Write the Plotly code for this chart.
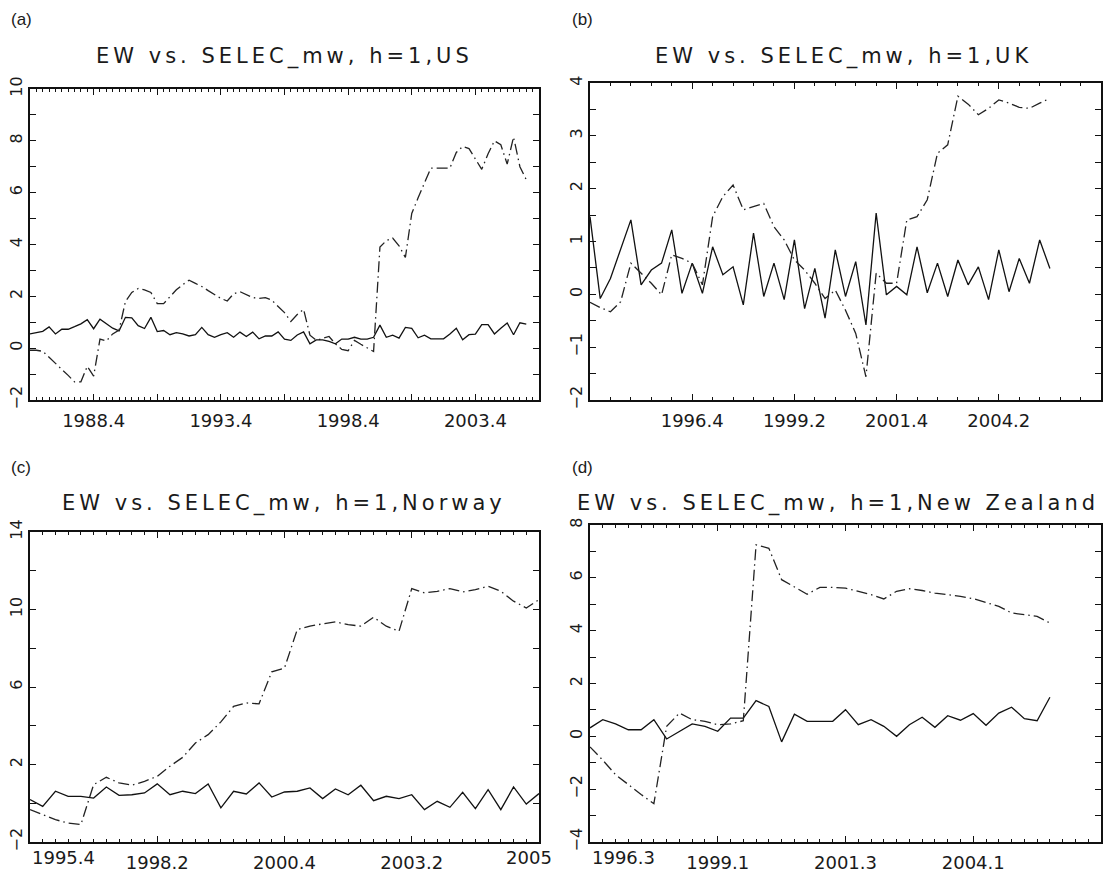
import plotly.graph_objects as go

# figure size (the page adds its default 8px body margin around it)
W, H = 1097, 862
OFF_X = 8
OFF_Y = 8

# ---------------- data (quarterly, values) ----------------
us_start = "1986.2"
us_ew = [0.55, 0.60, 0.65, 0.82, 0.55, 0.73, 0.73, 0.83, 0.94, 1.10,
         0.75, 1.12, 0.94, 0.77, 0.67, 1.19, 1.17, 0.87, 0.76, 1.19,
         0.64, 0.68, 0.52, 0.60, 0.55, 0.47, 0.52, 0.80, 0.52, 0.42,
         0.52, 0.60, 0.42, 0.62, 0.45, 0.62, 0.36, 0.47, 0.47, 0.63,
         0.35, 0.30, 0.51, 0.63, 0.17, 0.32, 0.32, 0.26, 0.17, 0.35,
         0.35, 0.42, 0.35, 0.35, 0.42, 0.89, 0.42, 0.50, 0.39, 0.80,
         0.76, 0.40, 0.50, 0.36, 0.36, 0.36, 0.55, 0.77, 0.32, 0.52,
         0.54, 0.91, 0.91, 0.55, 0.77, 0.97, 0.52, 0.98, 0.93]
us_selec = [-0.08, -0.08, -0.12, -0.35, -0.60, -0.80, -1.05, -1.30, -1.30, -0.70,
            -1.08, 0.35, 0.28, 0.55, 0.70, 1.80, 2.15, 2.30, 2.25, 2.15,
            1.72, 1.72, 2.00, 2.25, 2.45, 2.62, 2.50, 2.38, 2.22, 2.06,
            1.92, 1.82, 2.10, 2.18, 2.05, 1.95, 1.92, 1.95, 1.85, 1.60,
            1.37, 1.03, 1.30, 1.50, 0.50, 0.30, 0.38, 0.45, 0.17, -0.05,
            -0.10, 0.30, 0.15, 0.00, -0.13, 3.90, 4.15, 4.25, 3.95, 3.50,
            5.20, 5.80, 6.35, 6.95, 6.95, 6.95, 6.95, 7.55, 7.78, 7.70,
            7.30, 6.90, 7.50, 8.00, 7.85, 7.10, 8.15, 7.00, 6.50]

uk_start = "1994.2"
uk_ew = [1.47, -0.08, 0.30, 0.87, 1.41, 0.18, 0.46, 0.59, 1.22, 0.02,
         0.59, 0.02, 0.90, 0.37, 0.52, -0.20, 1.16, -0.04, 0.59, -0.10,
         1.03, -0.27, 0.49, -0.45, 0.84, -0.04, 0.62, -0.58, 1.54, -0.01,
         0.15, -0.01, 0.90, 0.03, 0.59, -0.04, 0.65, 0.18, 0.52, -0.10,
         0.84, 0.05, 0.68, 0.21, 1.03, 0.49]
uk_selec = [-0.15, -0.25, -0.33, -0.14, 0.59, 0.40, 0.21, -0.01, 0.75, 0.68,
            0.59, 0.18, 1.47, 1.85, 2.07, 1.60, 1.66, 1.72, 1.28, 1.03,
            0.65, 0.46, 0.21, -0.08, 0.08, -0.30, -0.74, -1.56, 0.40, 0.21,
            0.21, 1.41, 1.47, 1.79, 2.67, 2.83, 3.75, 3.60, 3.40, 3.52,
            3.68, 3.62, 3.54, 3.52, 3.62, 3.71]

no_start = "1995.4"
no_ew = [0.19, -0.16, 0.62, 0.36, 0.36, 0.27, 0.84, 0.41, 0.44, 0.53,
         1.00, 0.44, 0.62, 0.50, 1.00, -0.24, 0.62, 0.48, 1.05, 0.32,
         0.58, 0.62, 0.79, 0.24, 0.74, 0.44, 0.93, 0.13, 0.36, 0.24,
         0.44, -0.33, 0.10, -0.21, 0.56, -0.28, 0.70, -0.33, 0.84, -0.04,
         0.50]
no_selec = [-0.33, -0.59, -0.85, -1.02, -1.10, 0.96, 1.34, 1.05, 0.93, 1.13,
            1.39, 1.91, 2.37, 3.11, 3.54, 4.20, 5.00, 5.18, 5.13, 6.78,
            6.98, 8.96, 9.14, 9.26, 9.36, 9.22, 9.14, 9.60, 9.14, 8.88,
            11.08, 10.86, 10.94, 11.08, 10.91, 11.03, 11.20, 10.94, 10.43, 10.08,
            10.51]

nz_start = "1996.3"
nz_ew = [0.32, 0.63, 0.47, 0.25, 0.25, 0.63, -0.10, 0.19, 0.47, 0.38,
         0.19, 0.69, 0.69, 1.35, 1.13, -0.21, 0.84, 0.57, 0.57, 0.57,
         1.01, 0.44, 0.63, 0.38, 0.00, 0.44, 0.72, 0.34, 0.78, 0.61,
         0.86, 0.42, 0.88, 1.10, 0.67, 0.59, 1.48]
nz_selec = [-0.40, -0.90, -1.45, -1.83, -2.20, -2.55, 0.38, 0.88, 0.63, 0.57,
            0.44, 0.47, 0.59, 7.25, 7.12, 5.93, 5.67, 5.38, 5.64, 5.64,
            5.61, 5.49, 5.36, 5.20, 5.49, 5.59, 5.52, 5.42, 5.36, 5.30,
            5.21, 5.07, 4.92, 4.67, 4.60, 4.54, 4.29]

titles = ["EW vs. SELEC_mw, h=1,US", "EW vs. SELEC_mw, h=1,UK",
          "EW vs. SELEC_mw, h=1,Norway", "EW vs. SELEC_mw, h=1,New Zealand"]
tags = ["(a)", "(b)", "(c)", "(d)"]

us_xrange = ["1986.2", "2006.2"]
uk_xrange = ["1994.2", "2006.4"]
no_xrange = ["1995.4", "2005.4"]
nz_xrange = ["1996.3", "2006.3"]

us_tick_q = ["1988.4", "1993.4", "1998.4", "2003.4"]
us_tick_lab = ["1988.4", "1993.4", "1998.4", "2003.4"]
uk_tick_q = ["1996.4", "1999.2", "2001.4", "2004.2"]
uk_tick_lab = ["1996.4", "1999.2", "2001.4", "2004.2"]
no_tick_q = ["1995.4", "1998.2", "2000.4", "2003.2", "2005.4"]
no_tick_lab = ["1995.4", "1998.2", "2000.4", "2003.2", "2005"]
nz_tick_q = ["1996.3", "1999.1", "2001.3", "2004.1"]
nz_tick_lab = ["1996.3", "1999.1", "2001.3", "2004.1"]

us_yticks = [-2, 0, 2, 4, 6, 8, 10]
uk_yticks = [-2, -1, 0, 1, 2, 3, 4]
no_yticks = [-2, 2, 6, 10, 14]
nz_yticks = [-4, -2, 0, 2, 4, 6, 8]


# ---------------- helpers ----------------
def qx(s):
    y, q = s.split(".")
    return int(y) + (int(q) - 1) / 4.0


def series_x(start, n):
    x0 = qx(start)
    return [x0 + 0.25 * i for i in range(n)]


def fmt(v):
    return ("\u2212" + str(abs(v))) if v < 0 else str(v)


def pxx(p):  # window pixel -> paper fraction
    return (p - OFF_X) / W


def pxy(p):
    return 1 - (p - OFF_Y) / H


# layout spec (window pixel boxes: left, right, top, bottom)
spec = [
    dict(start=us_start, ew=us_ew, sel=us_selec, xr=us_xrange, tq=us_tick_q, tl=us_tick_lab,
         major=10, minor=1, yt=us_yticks, yminor=1, box=(30, 539, 89, 400),
         title_xy=(284, 57), tag_xy=(9, 20), left_edge=False, right_edge=False),
    dict(start=uk_start, ew=uk_ew, sel=uk_selec, xr=uk_xrange, tq=uk_tick_q, tl=uk_tick_lab,
         major=10, minor=2, yt=uk_yticks, yminor=0.5, box=(590, 1101, 83, 400),
         title_xy=(843, 56), tag_xy=(570, 20), left_edge=False, right_edge=False),
    dict(start=no_start, ew=no_ew, sel=no_selec, xr=no_xrange, tq=no_tick_q, tl=no_tick_lab,
         major=10, minor=1, yt=no_yticks, yminor=2, box=(30, 539, 532, 842),
         title_xy=(284, 503), tag_xy=(9, 468), left_edge=True, right_edge=True),
    dict(start=nz_start, ew=nz_ew, sel=nz_selec, xr=nz_xrange, tq=nz_tick_q, tl=nz_tick_lab,
         major=10, minor=1, yt=nz_yticks, yminor=1, box=(590, 1101, 525, 842),
         title_xy=(838, 503), tag_xy=(570, 468), left_edge=True, right_edge=False),
]

TICKFONT = dict(family="DejaVu Sans", size=18, color="#1a1a1a")
LINEC = "#111111"

fig = go.Figure()
annotations = []
extra_ax = 5  # next free axis number for edge-label overlay axes

for i, p in enumerate(spec):
    k = "" if i == 0 else str(i + 1)
    xs = series_x(p["start"], len(p["ew"]))
    fig.add_trace(go.Scatter(x=xs, y=p["ew"], mode="lines", xaxis="x" + k, yaxis="y" + k,
                             line=dict(color=LINEC, width=1.3), showlegend=False,
                             name="EW"))
    fig.add_trace(go.Scatter(x=xs, y=p["sel"], mode="lines", xaxis="x" + k, yaxis="y" + k,
                             line=dict(color="#222222", width=1.3, dash="11px,4px,1.5px,4px"),
                             showlegend=False, name="SELEC_mw"))

    x0, x1 = qx(p["xr"][0]), qx(p["xr"][1])
    nmaj = int(round((x1 - x0) / (0.25 * p["major"])))
    tickvals, ticktext = [], []
    labmap = {round(qx(q), 3): lab for q, lab in zip(p["tq"], p["tl"])}
    edge = []
    for j in range(nmaj + 1):
        v = x0 + j * 0.25 * p["major"]
        lab = labmap.get(round(v, 3), "")
        if (p["left_edge"] and j == 0) or (p["right_edge"] and j == nmaj):
            if lab:
                edge.append((v, lab, "left" if j == 0 else "right"))
            lab = ""
        tickvals.append(v)
        ticktext.append(lab)

    l, r, t, b = p["box"]
    fig.layout["xaxis" + k] = dict(
        domain=[pxx(l), pxx(r)], range=[x0, x1], anchor="y" + k,
        tickmode="array", tickvals=tickvals, ticktext=ticktext,
        ticks="inside", ticklen=6, tickwidth=1.2, tickcolor="#111",
        minor=dict(ticks="inside", ticklen=3, tickwidth=1, tickcolor="#111",
                   dtick=0.25 * p["minor"], tick0=x0, showgrid=False),
        showline=True, linewidth=2.2, linecolor="#111", mirror="ticks",
        showgrid=False, zeroline=False, tickangle=0, tickfont=TICKFONT,
        ticklabelstandoff=3, automargin=False,
    )
    # labels that sit on the frame corners: own overlay axes so they can be aligned
    for v, lab, side in edge:
        n = str(extra_ax)
        extra_ax += 1
        fig.add_trace(go.Scatter(x=[], y=[], xaxis="x" + n, yaxis="y" + k,
                                 showlegend=False, hoverinfo="skip"))
        fig.layout["xaxis" + n] = dict(
            overlaying="x" + k, anchor="y" + k, side="bottom", range=[x0, x1],
            tickmode="array", tickvals=[v], ticktext=[lab], ticks="",
            showline=False, showgrid=False, zeroline=False, tickangle=0,
            tickfont=TICKFONT, ticklabelstandoff=3, automargin=False,
            ticklabelposition="outside right" if side == "left" else "outside",
            ticklabelshift=2 if side == "left" else -10,
        )

    y0, y1 = p["yt"][0], p["yt"][-1]
    fig.layout["yaxis" + k] = dict(
        domain=[pxy(b), pxy(t)], range=[y0, y1], anchor="x" + k,
        tickmode="array", tickvals=p["yt"], ticktext=[fmt(v) for v in p["yt"]],
        ticks="inside", ticklen=6, tickwidth=1.2, tickcolor="#111",
        minor=dict(ticks="inside", ticklen=6, tickwidth=1, tickcolor="#111",
                   dtick=p["yminor"], tick0=y0, showgrid=False),
        showline=True, linewidth=2.2, linecolor="#111", mirror="ticks",
        showgrid=False, zeroline=False, tickangle=-90, automargin=False,
        tickfont=dict(family="DejaVu Sans", size=16, color="#1a1a1a"),
    )

    annotations.append(dict(
        text='<span style="letter-spacing:4px">' + titles[i] + '</span>',
        x=pxx(p["title_xy"][0]), y=pxy(p["title_xy"][1]), xref="paper", yref="paper",
        xanchor="center", yanchor="middle", showarrow=False,
        font=dict(family="DejaVu Sans", size=21, color="#1a1a1a")))
    annotations.append(dict(
        text=tags[i], x=pxx(p["tag_xy"][0]), y=pxy(p["tag_xy"][1]), xref="paper", yref="paper",
        xanchor="left", yanchor="middle", showarrow=False,
        font=dict(family="Liberation Sans", size=17, color="#1a1a1a")))

fig.update_layout(
    width=W, height=H, margin=dict(l=0, r=0, t=0, b=0, autoexpand=False),
    paper_bgcolor="white", plot_bgcolor="white", showlegend=False,
    annotations=annotations,
)

fig.write_html("out.html")
